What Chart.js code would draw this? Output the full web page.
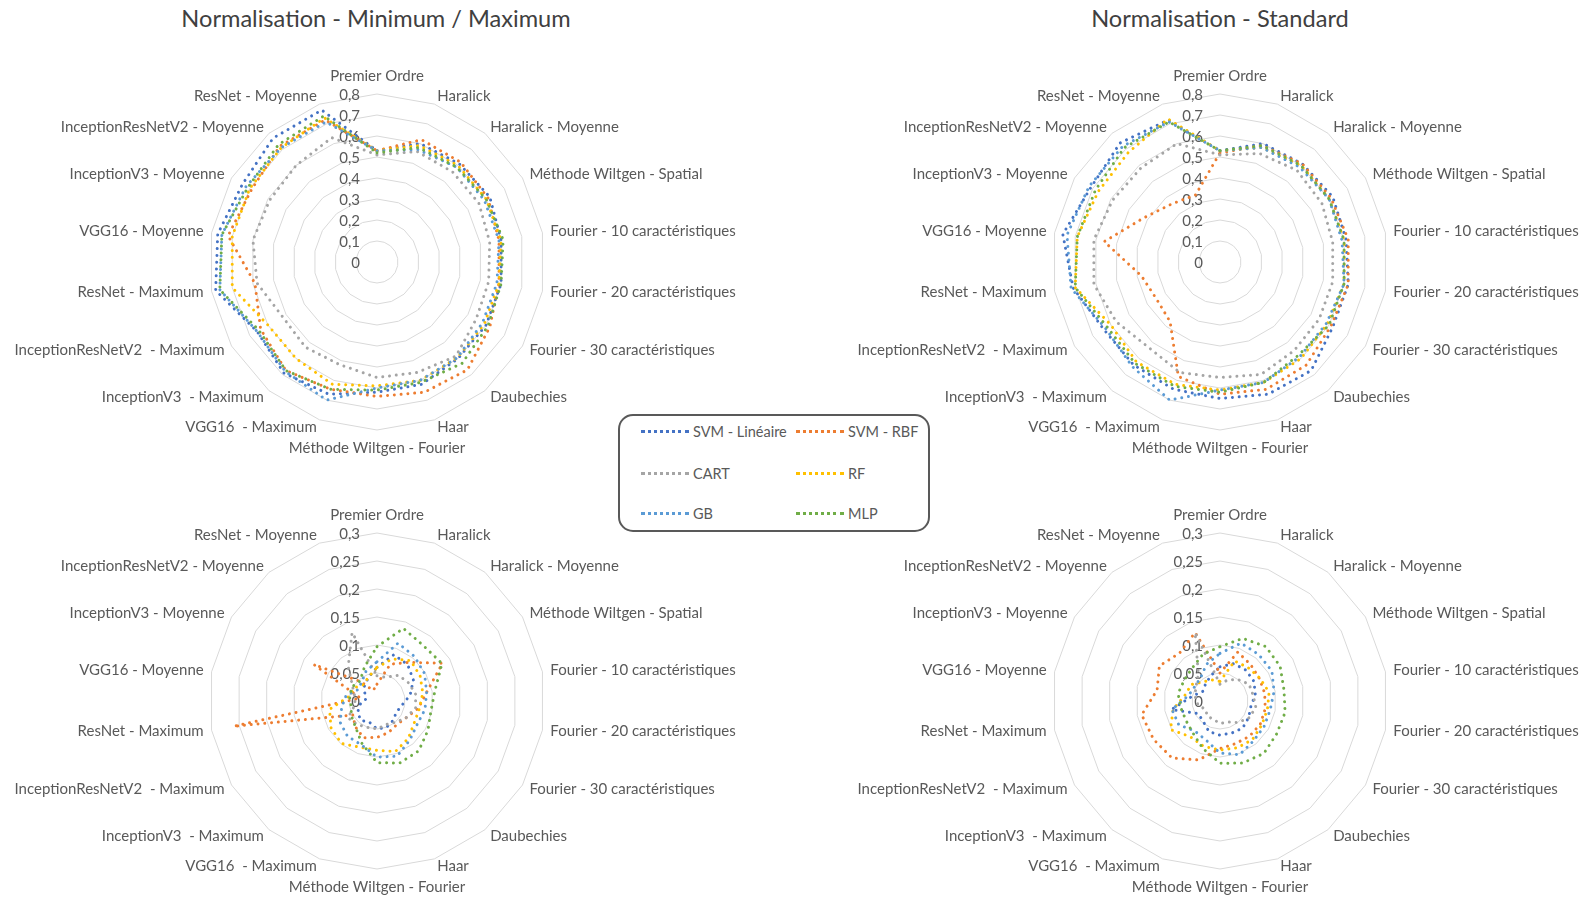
<!DOCTYPE html>
<html>
<head>
<meta charset="utf-8">
<script src="https://cdn.jsdelivr.net/npm/chart.js@4.4.1/dist/chart.umd.min.js"></script>
<style>
  body { margin: 0; width: 1587px; height: 899px; background: #fff; position: relative; overflow: hidden; font-family: Lato, sans-serif; }
  canvas { position: absolute; }
  .title { position: absolute; top: 18px; transform: translate(-50%, -50%); font-size: 23.6px; color: #404040; white-space: nowrap; }
  .legend { position: absolute; left: 618px; top: 414px; width: 312px; height: 118px; box-sizing: border-box; border: 2px solid #595959; border-radius: 15px; background: #fff; z-index: 2; }
  .item { position: absolute; height: 18px; font-size: 14.5px; color: #595959; line-height: 18px; white-space: nowrap; }
  .item span.swatch { position: absolute; left: 0; top: 7px; width: 48px; height: 0; border-top: 3px dotted; }
  .item span.txt { position: absolute; left: 52px; top: 0; }
</style>
</head>
<body>
<div class="title" style="left:376px">Normalisation - Minimum / Maximum</div>
<div class="title" style="left:1220px">Normalisation - Standard</div>

<canvas id="tl" width="793" height="440" style="left:0;top:40px"></canvas>
<canvas id="tr" width="794" height="440" style="left:793px;top:40px"></canvas>
<canvas id="bl" width="793" height="419" style="left:0;top:480px"></canvas>
<canvas id="br" width="794" height="419" style="left:793px;top:480px"></canvas>

<div class="legend" id="legend"></div>

<script>
// axes of every radar
const axisLabels = [
  'Premier Ordre', 'Haralick', 'Haralick - Moyenne', 'Méthode Wiltgen - Spatial',
  'Fourier - 10 caractéristiques', 'Fourier - 20 caractéristiques', 'Fourier - 30 caractéristiques',
  'Daubechies', 'Haar', 'Méthode Wiltgen - Fourier', 'VGG16  - Maximum', 'InceptionV3  - Maximum',
  'InceptionResNetV2  - Maximum', 'ResNet - Maximum', 'VGG16 - Moyenne', 'InceptionV3 - Moyenne',
  'InceptionResNetV2 - Moyenne', 'ResNet - Moyenne'
];
const seriesNames = ['SVM - Linéaire', 'SVM - RBF', 'CART', 'RF', 'GB', 'MLP'];

// Normalisation Minimum / Maximum - top radar (0 - 0.8)
const minMaxTopLin  = [0.53, 0.60, 0.61, 0.62, 0.60, 0.60, 0.60, 0.60, 0.62, 0.62, 0.67, 0.69, 0.66, 0.78, 0.77, 0.74, 0.77, 0.77];
const minMaxTopRbf  = [0.53, 0.62, 0.62, 0.61, 0.59, 0.59, 0.62, 0.67, 0.66, 0.64, 0.645, 0.675, 0.64, 0.59, 0.72, 0.69, 0.72, 0.72];
const minMaxTopCart = [0.51, 0.56, 0.56, 0.56, 0.545, 0.54, 0.545, 0.585, 0.56, 0.55, 0.52, 0.53, 0.52, 0.58, 0.60, 0.59, 0.60, 0.63];
const minMaxTopRf   = [0.53, 0.59, 0.60, 0.60, 0.60, 0.59, 0.59, 0.595, 0.60, 0.59, 0.62, 0.60, 0.60, 0.70, 0.70, 0.70, 0.71, 0.73];
const minMaxTopGb   = [0.53, 0.57, 0.59, 0.59, 0.59, 0.58, 0.58, 0.595, 0.60, 0.60, 0.70, 0.68, 0.66, 0.76, 0.75, 0.72, 0.71, 0.71];
const minMaxTopMlp  = [0.52, 0.58, 0.59, 0.60, 0.61, 0.60, 0.61, 0.63, 0.61, 0.61, 0.645, 0.675, 0.65, 0.76, 0.75, 0.71, 0.73, 0.74];

// Normalisation Standard - top radar (0 - 0.8)
const standardTopLin  = [0.53, 0.60, 0.61, 0.62, 0.61, 0.62, 0.62, 0.675, 0.67, 0.65, 0.645, 0.64, 0.64, 0.71, 0.76, 0.71, 0.74, 0.72];
const standardTopRbf  = [0.52, 0.59, 0.61, 0.61, 0.62, 0.62, 0.61, 0.64, 0.645, 0.63, 0.58, 0.37, 0.35, 0.38, 0.56, 0.42, 0.36, 0.34];
const standardTopCart = [0.51, 0.55, 0.57, 0.56, 0.545, 0.545, 0.545, 0.55, 0.57, 0.55, 0.56, 0.53, 0.57, 0.61, 0.61, 0.59, 0.585, 0.60];
const standardTopRf   = [0.53, 0.58, 0.60, 0.60, 0.60, 0.60, 0.59, 0.60, 0.61, 0.61, 0.62, 0.62, 0.60, 0.70, 0.69, 0.67, 0.68, 0.725];
const standardTopGb   = [0.53, 0.58, 0.59, 0.60, 0.59, 0.60, 0.585, 0.59, 0.61, 0.61, 0.70, 0.65, 0.63, 0.72, 0.74, 0.72, 0.72, 0.71];
const standardTopMlp  = [0.53, 0.59, 0.60, 0.60, 0.60, 0.60, 0.60, 0.58, 0.61, 0.62, 0.63, 0.63, 0.62, 0.70, 0.69, 0.685, 0.71, 0.71];

// Normalisation Minimum / Maximum - bottom radar (0 - 0.3)
const minMaxBottomLin  = [0.06, 0.088, 0.085, 0.075, 0.06, 0.045, 0.04, 0.045, 0.05, 0.05, 0.04, 0.045, 0.04, 0.03, 0.02, 0.025, 0.035, 0.045];
const minMaxBottomRbf  = [0.03, 0.07, 0.09, 0.135, 0.09, 0.075, 0.06, 0.055, 0.06, 0.065, 0.07, 0.06, 0.05, 0.26, 0.03, 0.13, 0.045, 0.02];
const minMaxBottomCart = [0.045, 0.045, 0.06, 0.065, 0.07, 0.07, 0.06, 0.05, 0.045, 0.05, 0.05, 0.055, 0.06, 0.04, 0.04, 0.05, 0.08, 0.13];
const minMaxBottomRf   = [0.06, 0.08, 0.094, 0.089, 0.083, 0.077, 0.077, 0.087, 0.096, 0.088, 0.088, 0.099, 0.095, 0.086, 0.05, 0.047, 0.038, 0.045];
const minMaxBottomGb   = [0.07, 0.11, 0.104, 0.098, 0.09, 0.087, 0.083, 0.091, 0.105, 0.10, 0.083, 0.082, 0.076, 0.064, 0.056, 0.04, 0.043, 0.057];
const minMaxBottomMlp  = [0.097, 0.138, 0.129, 0.134, 0.105, 0.098, 0.105, 0.116, 0.118, 0.11, 0.08, 0.06, 0.053, 0.047, 0.05, 0.051, 0.047, 0.065];

// Normalisation Standard - bottom radar (0 - 0.3)
const standardBottomLin  = [0.061, 0.071, 0.072, 0.07, 0.064, 0.056, 0.059, 0.063, 0.061, 0.061, 0.058, 0.047, 0.045, 0.088, 0.05, 0.035, 0.04, 0.048];
const standardBottomRbf  = [0.05, 0.093, 0.085, 0.081, 0.081, 0.082, 0.083, 0.082, 0.081, 0.085, 0.112, 0.133, 0.137, 0.142, 0.114, 0.125, 0.112, 0.13];
const standardBottomCart = [0.03, 0.04, 0.05, 0.06, 0.06, 0.065, 0.06, 0.05, 0.04, 0.04, 0.035, 0.035, 0.03, 0.04, 0.045, 0.05, 0.06, 0.13];
const standardBottomRf   = [0.035, 0.076, 0.078, 0.082, 0.089, 0.086, 0.086, 0.09, 0.089, 0.0875, 0.086, 0.083, 0.102, 0.085, 0.063, 0.059, 0.045, 0.04];
const standardBottomGb   = [0.085, 0.11, 0.108, 0.107, 0.098, 0.091, 0.091, 0.093, 0.102, 0.093, 0.074, 0.07, 0.085, 0.087, 0.057, 0.052, 0.054, 0.07];
const standardBottomMlp  = [0.097, 0.119, 0.127, 0.124, 0.116, 0.118, 0.117, 0.122, 0.118, 0.111, 0.09, 0.075, 0.07, 0.071, 0.076, 0.074, 0.077, 0.089];

// Office palette
const seriesColors = ['#4472C4', '#ED7D31', '#A5A5A5', '#FFC000', '#5B9BD5', '#70AD47'];
const TEXT_COLOR = '#595959';
const LABEL_FONT = '15px Lato';
const TICK_FONT = '15px Lato';
const RADIUS = 168;

// tick labels left of the vertical axis + Excel-style category labels
const excelText = {
  id: 'excelText',
  beforeDatasetsDraw(chart) {
    const r = chart.scales.r;
    const ctx = chart.ctx;
    ctx.save();
    ctx.font = TICK_FONT;
    ctx.fillStyle = TEXT_COLOR;
    ctx.textAlign = 'right';
    ctx.textBaseline = 'middle';
    r.ticks.forEach(t => {
      ctx.fillText(t.label, r.xCenter - 17, r.yCenter - r.getDistanceFromCenterForValue(t.value) + 1);
    });
    ctx.restore();
  },
  afterDraw(chart) {
    const r = chart.scales.r;
    const ctx = chart.ctx;
    ctx.save();
    ctx.font = LABEL_FONT;
    ctx.fillStyle = TEXT_COLOR;
    ctx.textBaseline = 'middle';
    chart.data.labels.forEach((lab, i) => {
      const s = Math.sin(r.getIndexAngle(i));
      const vertical = Math.abs(s) < 1e-6;
      const p = r.getPointPosition(i, r.drawingArea + (vertical ? 18 : 8));
      ctx.textAlign = vertical ? 'center' : (s > 0 ? 'left' : 'right');
      ctx.fillText(lab, p.x, p.y);
    });
    ctx.restore();
  }
};

function makeRadar(canvasId, series, maxValue, step, cx, cy) {
  const canvas = document.getElementById(canvasId);
  const offX = canvas.offsetLeft, offY = canvas.offsetTop;
  // chart area = square of side 2R around the wanted centre
  const padding = {
    left: cx - RADIUS - offX,
    top: cy - RADIUS - offY,
    right: canvas.width - (cx - offX + RADIUS),
    bottom: canvas.height - (cy - offY + RADIUS)
  };
  return new Chart(canvas.getContext('2d'), {
    type: 'radar',
    data: {
      labels: axisLabels,
      datasets: series.map((values, i) => ({
        label: seriesNames[i],
        data: values,
        borderColor: seriesColors[i],
        backgroundColor: 'transparent',
        borderWidth: 3,
        borderDash: [0.001, 6.8],
        borderCapStyle: 'round',
        borderJoinStyle: 'round',
        fill: false,
        tension: 0,
        pointRadius: 0,
        pointHoverRadius: 0,
        order: series.length - 1 - i
      }))
    },
    plugins: [excelText],
    options: {
      responsive: false,
      animation: false,
      events: [],
      layout: { padding },
      plugins: { legend: { display: false }, tooltip: { enabled: false } },
      scales: {
        r: {
          min: 0,
          max: maxValue,
          ticks: { stepSize: step, display: false, callback: v => v.toLocaleString('fr-FR') },
          grid: { color: '#D9D9D9', lineWidth: 1 },
          angleLines: { display: false },
          pointLabels: { display: false }
        }
      }
    }
  });
}

makeRadar('tl', [minMaxTopLin, minMaxTopRbf, minMaxTopCart, minMaxTopRf, minMaxTopGb, minMaxTopMlp], 0.8, 0.1, 377, 262);
makeRadar('tr', [standardTopLin, standardTopRbf, standardTopCart, standardTopRf, standardTopGb, standardTopMlp], 0.8, 0.1, 1220, 262);
makeRadar('bl', [minMaxBottomLin, minMaxBottomRbf, minMaxBottomCart, minMaxBottomRf, minMaxBottomGb, minMaxBottomMlp], 0.3, 0.05, 377, 701);
makeRadar('br', [standardBottomLin, standardBottomRbf, standardBottomCart, standardBottomRf, standardBottomGb, standardBottomMlp], 0.3, 0.05, 1220, 701);

// legend, two columns x three rows, inside a rounded frame
const legend = document.getElementById('legend');
const legendCols = [641, 796];
const legendRows = [432, 474, 514];
seriesNames.forEach((name, i) => {
  const item = document.createElement('div');
  item.className = 'item';
  item.style.left = (legendCols[i % 2] - 620) + 'px';
  item.style.top = (legendRows[Math.floor(i / 2)] - 9 - 416) + 'px';
  item.innerHTML = '<span class="swatch" style="border-color:' + seriesColors[i] + '"></span><span class="txt"></span>';
  item.querySelector('.txt').textContent = name;
  legend.appendChild(item);
});
</script>
</body>
</html>
